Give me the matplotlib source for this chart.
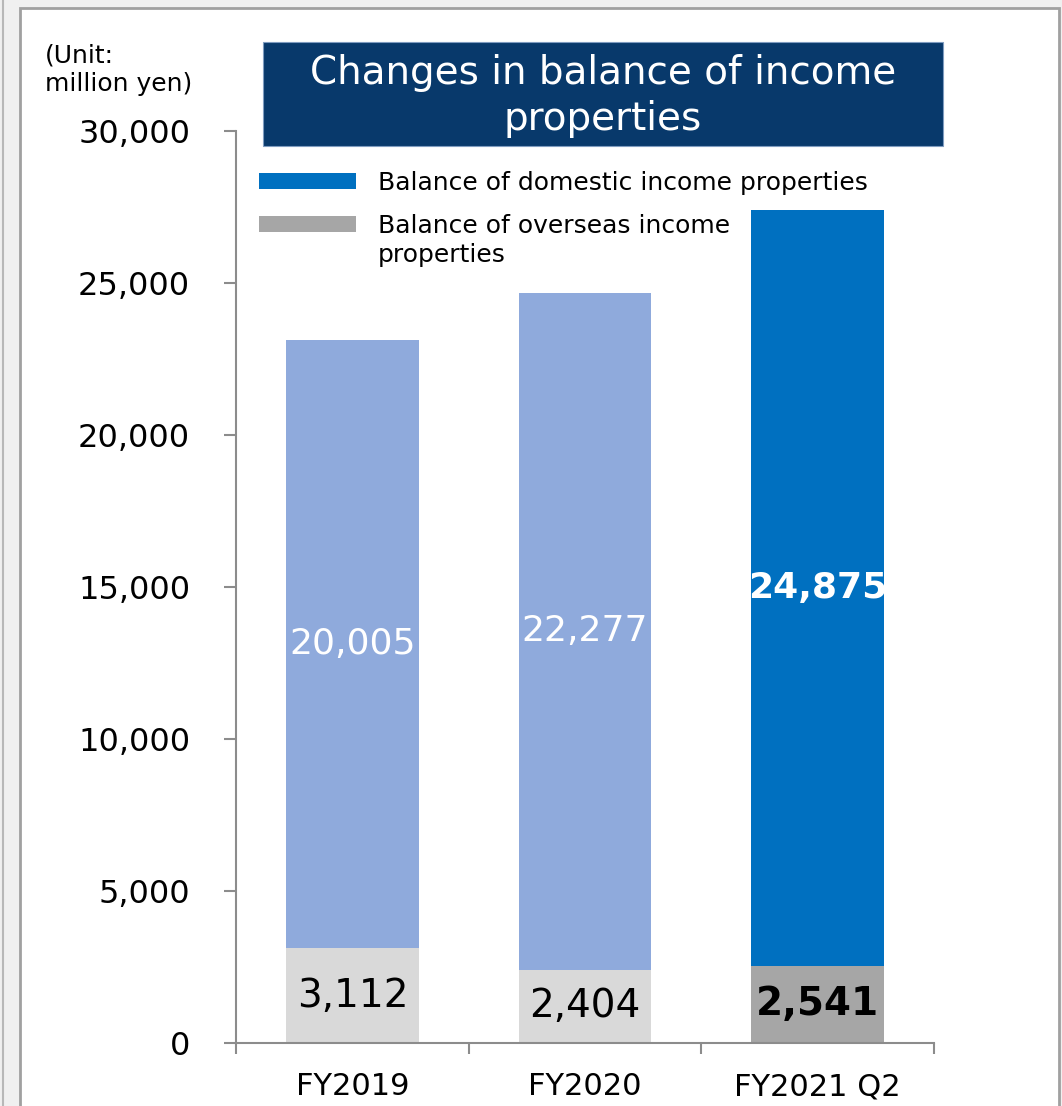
import matplotlib
matplotlib.use("Agg")
import matplotlib.pyplot as plt
from matplotlib.patches import Rectangle
from matplotlib.lines import Line2D

# data
categories = ["FY2019", "FY2020", "FY2021 Q2"]
overseas = [3112, 2404, 2541]
domestic = [20005, 22277, 24875]
yticks = [0, 5000, 10000, 15000, 20000, 25000, 30000]

dom_colors = ["#8faadc", "#8faadc", "#0070c0"]
ovs_colors = ["#d9d9d9", "#d9d9d9", "#a6a6a6"]
label_weight = ["normal", "normal", "bold"]

title = "Changes in balance of income\nproperties"
unit_text = "(Unit:\nmillion yen)"
legend_labels = ["Balance of domestic income properties",
                 "Balance of overseas income\nproperties"]
legend_colors = ["#0070c0", "#a6a6a6"]

W, H = 1062, 1106
fig = plt.figure(figsize=(W / 100, H / 100), dpi=100, facecolor="#f0f0f0")
plt.rcParams["font.family"] = ["DejaVu Sans"]

def fx(px):
    return px / W

def fy(py):
    return 1 - py / H

# panel frame
fig.patches.append(Rectangle((fx(20), fy(1110)), fx(1059) - fx(20), fy(8) - fy(1110),
                             transform=fig.transFigure, facecolor="white",
                             edgecolor="#a0a0a0", lw=2, zorder=-2))
fig.lines.append(Line2D([fx(3), fx(3)], [0, 1], transform=fig.transFigure,
                        color="#b8b8b8", lw=1.5, zorder=-2))

ax = fig.add_axes([fx(236), fy(1043), fx(934) - fx(236), fy(131) - fy(1043)])
ax.set_facecolor("none")

x = range(len(categories))
ax.bar(x, overseas, width=0.57, color=ovs_colors, zorder=2)
ax.bar(x, domestic, width=0.57, bottom=overseas, color=dom_colors, zorder=2)

for i in x:
    ax.text(i, overseas[i] / 2, f"{overseas[i]:,}", ha="center", va="center",
            fontsize=28, color="black", fontweight=label_weight[i], zorder=3)
    ax.text(i, overseas[i] + domestic[i] / 2, f"{domestic[i]:,}", ha="center",
            va="center", fontsize=26, color="white", fontweight=label_weight[i], zorder=3)

ax.set_xlim(-0.5, len(categories) - 0.5)
ax.set_ylim(0, 30000)
ax.set_yticks(yticks)
ax.set_yticklabels([f"{v:,}" for v in yticks], fontsize=23)
ax.set_xticks(list(x))
ax.set_xticklabels(categories, fontsize=22)
ax.set_xticks([-0.5, 0.5, 1.5, 2.5], minor=True)
ax.tick_params(axis="x", which="major", length=0, pad=21)
ax.tick_params(axis="x", which="minor", length=8, width=1.5, color="#8c8c8c", direction="out")
ax.tick_params(axis="y", length=9, width=1.5, color="#8c8c8c", pad=24)

for s in ["top", "right"]:
    ax.spines[s].set_visible(False)
for s in ["left", "bottom"]:
    ax.spines[s].set_color("#8c8c8c")
    ax.spines[s].set_linewidth(1.5)

# title box
fig.patches.append(Rectangle((fx(263), fy(146)), fx(943) - fx(263), fy(42) - fy(146),
                             transform=fig.transFigure, facecolor="#08396b",
                             edgecolor="#7f9cc0", lw=0.8, zorder=3))
fig.text(fx(603), fy(96), title, ha="center", va="center", fontsize=28,
         color="white", linespacing=1.25, zorder=4)

# unit label
fig.text(fx(45), fy(44), unit_text, ha="left", va="top", fontsize=18, linespacing=1.2)

# legend
leg_y = [181, 224]
for i, lab in enumerate(legend_labels):
    fig.patches.append(Rectangle((fx(259), fy(leg_y[i] + 8)), fx(97), fy(0) - fy(16),
                                 transform=fig.transFigure, facecolor=legend_colors[i],
                                 edgecolor="none", zorder=3))
    fig.text(fx(378), fy(leg_y[i] - 10), lab, ha="left", va="top", fontsize=18,
             linespacing=1.25)

fig.savefig("out.png", dpi=100, facecolor=fig.get_facecolor())
